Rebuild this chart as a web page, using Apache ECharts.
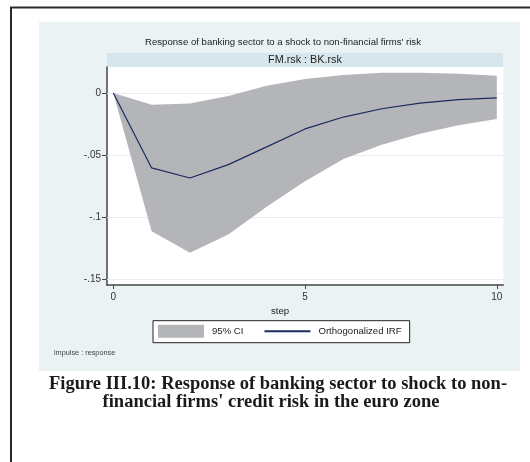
<!DOCTYPE html>
<html>
<head>
<meta charset="utf-8">
<script src="https://cdn.jsdelivr.net/npm/echarts@6/dist/echarts.min.js"></script>
<style>html,body{margin:0;padding:0;background:#fff}#c{width:530px;height:462px}</style>
</head>
<body>
<div id="c"></div>
<script>
const steps = [0,1,2,3,4,5,6,7,8,9,10];
const irf   = [0,-0.0605,-0.0686,-0.0578,-0.0435,-0.029,-0.0194,-0.0127,-0.0081,-0.0054,-0.004];
const upper = [0,-0.0094,-0.0084,-0.0025,0.0059,0.0113,0.0145,0.0164,0.0164,0.0156,0.014];
const lower = [0,-0.1116,-0.129,-0.1143,-0.0919,-0.0713,-0.0532,-0.0417,-0.0328,-0.0261,-0.021];
const xTicks = [0,5,10];
const yTicks = [0,-0.05,-0.1,-0.15];

const chart = echarts.init(document.getElementById('c'), null, {renderer:'canvas'});
const fmtY = v => v === 0 ? '0' : (v < 0 ? '-' : '') + String(Math.abs(+(+v).toFixed(4))).replace(/^0/, '');
const FONT = 'Liberation Sans, Arial, sans-serif';
const SERIF = 'bold 18.5px Liberation Serif, Times New Roman, serif';
const BAND = '#b4b5b9';
const NAVY = '#1b2a5e';

function renderBand(params, api) {
  if (params.dataIndex !== 0) return;
  const pts = [];
  for (let i = 0; i < steps.length; i++) pts.push(api.coord([steps[i], upper[i]]));
  for (let i = steps.length - 1; i >= 0; i--) pts.push(api.coord([steps[i], lower[i]]));
  return {type:'polygon', shape:{points:pts}, style:{fill:BAND, stroke:null}};
}

chart.setOption({
  animation: false,
  backgroundColor: '#ffffff',
  graphic: [
    {type:'rect', shape:{x:39,y:22,width:481,height:349}, style:{fill:'#eaf2f4'}, z:-10},
    {type:'rect', shape:{x:107,y:53,width:396,height:14}, style:{fill:'#d7e5ec'}, z:-9},
    {type:'rect', shape:{x:11,y:7.5,width:560,height:500}, style:{fill:'none', stroke:'#2a2a2a', lineWidth:2}, z:100},
    {type:'text', x:283, y:42, style:{text:"Response of banking sector to a shock to non-financial firms' risk", font:'9.6px '+FONT, fill:'#222', textAlign:'center', textVerticalAlign:'middle'}},
    {type:'text', x:305, y:60, style:{text:'FM.rsk : BK.rsk', font:'10.8px '+FONT, fill:'#222', textAlign:'center', textVerticalAlign:'middle'}},
    {type:'text', x:280, y:311, style:{text:'step', font:'9.6px '+FONT, fill:'#222', textAlign:'center', textVerticalAlign:'middle'}},
    {type:'text', x:54, y:353, style:{text:'impulse : response', font:'7.3px '+FONT, fill:'#444', textAlign:'left', textVerticalAlign:'middle'}},
    {type:'text', x:278, y:384, style:{text:"Figure III.10: Response of banking sector to shock to non-", font:SERIF, fill:'#1a1a1a', textAlign:'center', textVerticalAlign:'middle'}},
    {type:'text', x:271, y:402, style:{text:"financial firms' credit risk in the euro zone", font:SERIF, fill:'#1a1a1a', textAlign:'center', textVerticalAlign:'middle'}}
  ],
  grid: {left:107, right:26.7, top:67, bottom:177, show:true, backgroundColor:'#ffffff', borderWidth:0, containLabel:false},
  legend: {
    left:153, top:320.7, width:253,
    padding:[4,8,5,5], itemGap:20, itemWidth:46, itemHeight:13,
    borderColor:'#222', borderWidth:1, backgroundColor:'#ffffff',
    textStyle:{fontFamily:FONT, fontSize:9.6, color:'#222', padding:[0,0,0,3]},
    data:[{name:'95% CI', icon:'rect'}, {name:'Orthogonalized IRF', itemStyle:{opacity:0}}],
    selectedMode:false
  },
  xAxis: {
    type:'value', min:-0.164, max:10.17,
    axisLine:{show:true, onZero:false, lineStyle:{color:'#444', width:1.5}},
    axisTick:{show:true, length:4, customValues:xTicks, lineStyle:{color:'#444'}},
    axisLabel:{customValues:xTicks, fontFamily:FONT, fontSize:10, color:'#333', margin:7},
    splitLine:{show:false}
  },
  yAxis: {
    type:'value', min:-0.155, max:0.021,
    axisLine:{show:true, onZero:false, lineStyle:{color:'#444', width:1.5}},
    axisTick:{show:true, length:5, customValues:yTicks, lineStyle:{color:'#444'}},
    axisLabel:{customValues:yTicks, formatter:fmtY, fontFamily:FONT, fontSize:10, color:'#333', margin:6},
    splitLine:{show:false}
  },
  series: [
    {
      name:'95% CI', type:'custom', silent:true, renderItem:renderBand,
      data: steps.map((s,i)=>[s, lower[i], upper[i]]),
      encode:{x:0, y:[1,2]},
      itemStyle:{color:BAND}, z:2,
      markLine:{silent:true, symbol:'none', z:1, label:{show:false},
        lineStyle:{color:'#e6eff2', width:1, type:'solid'},
        data: yTicks.map(v=>({yAxis:v}))}
    },
    {
      name:'Orthogonalized IRF', type:'line', symbol:'none', silent:true,
      data: steps.map((s,i)=>[s, irf[i]]),
      lineStyle:{color:NAVY, width:1.2}, itemStyle:{color:NAVY}, z:3
    }
  ]
});
</script>
</body>
</html>
